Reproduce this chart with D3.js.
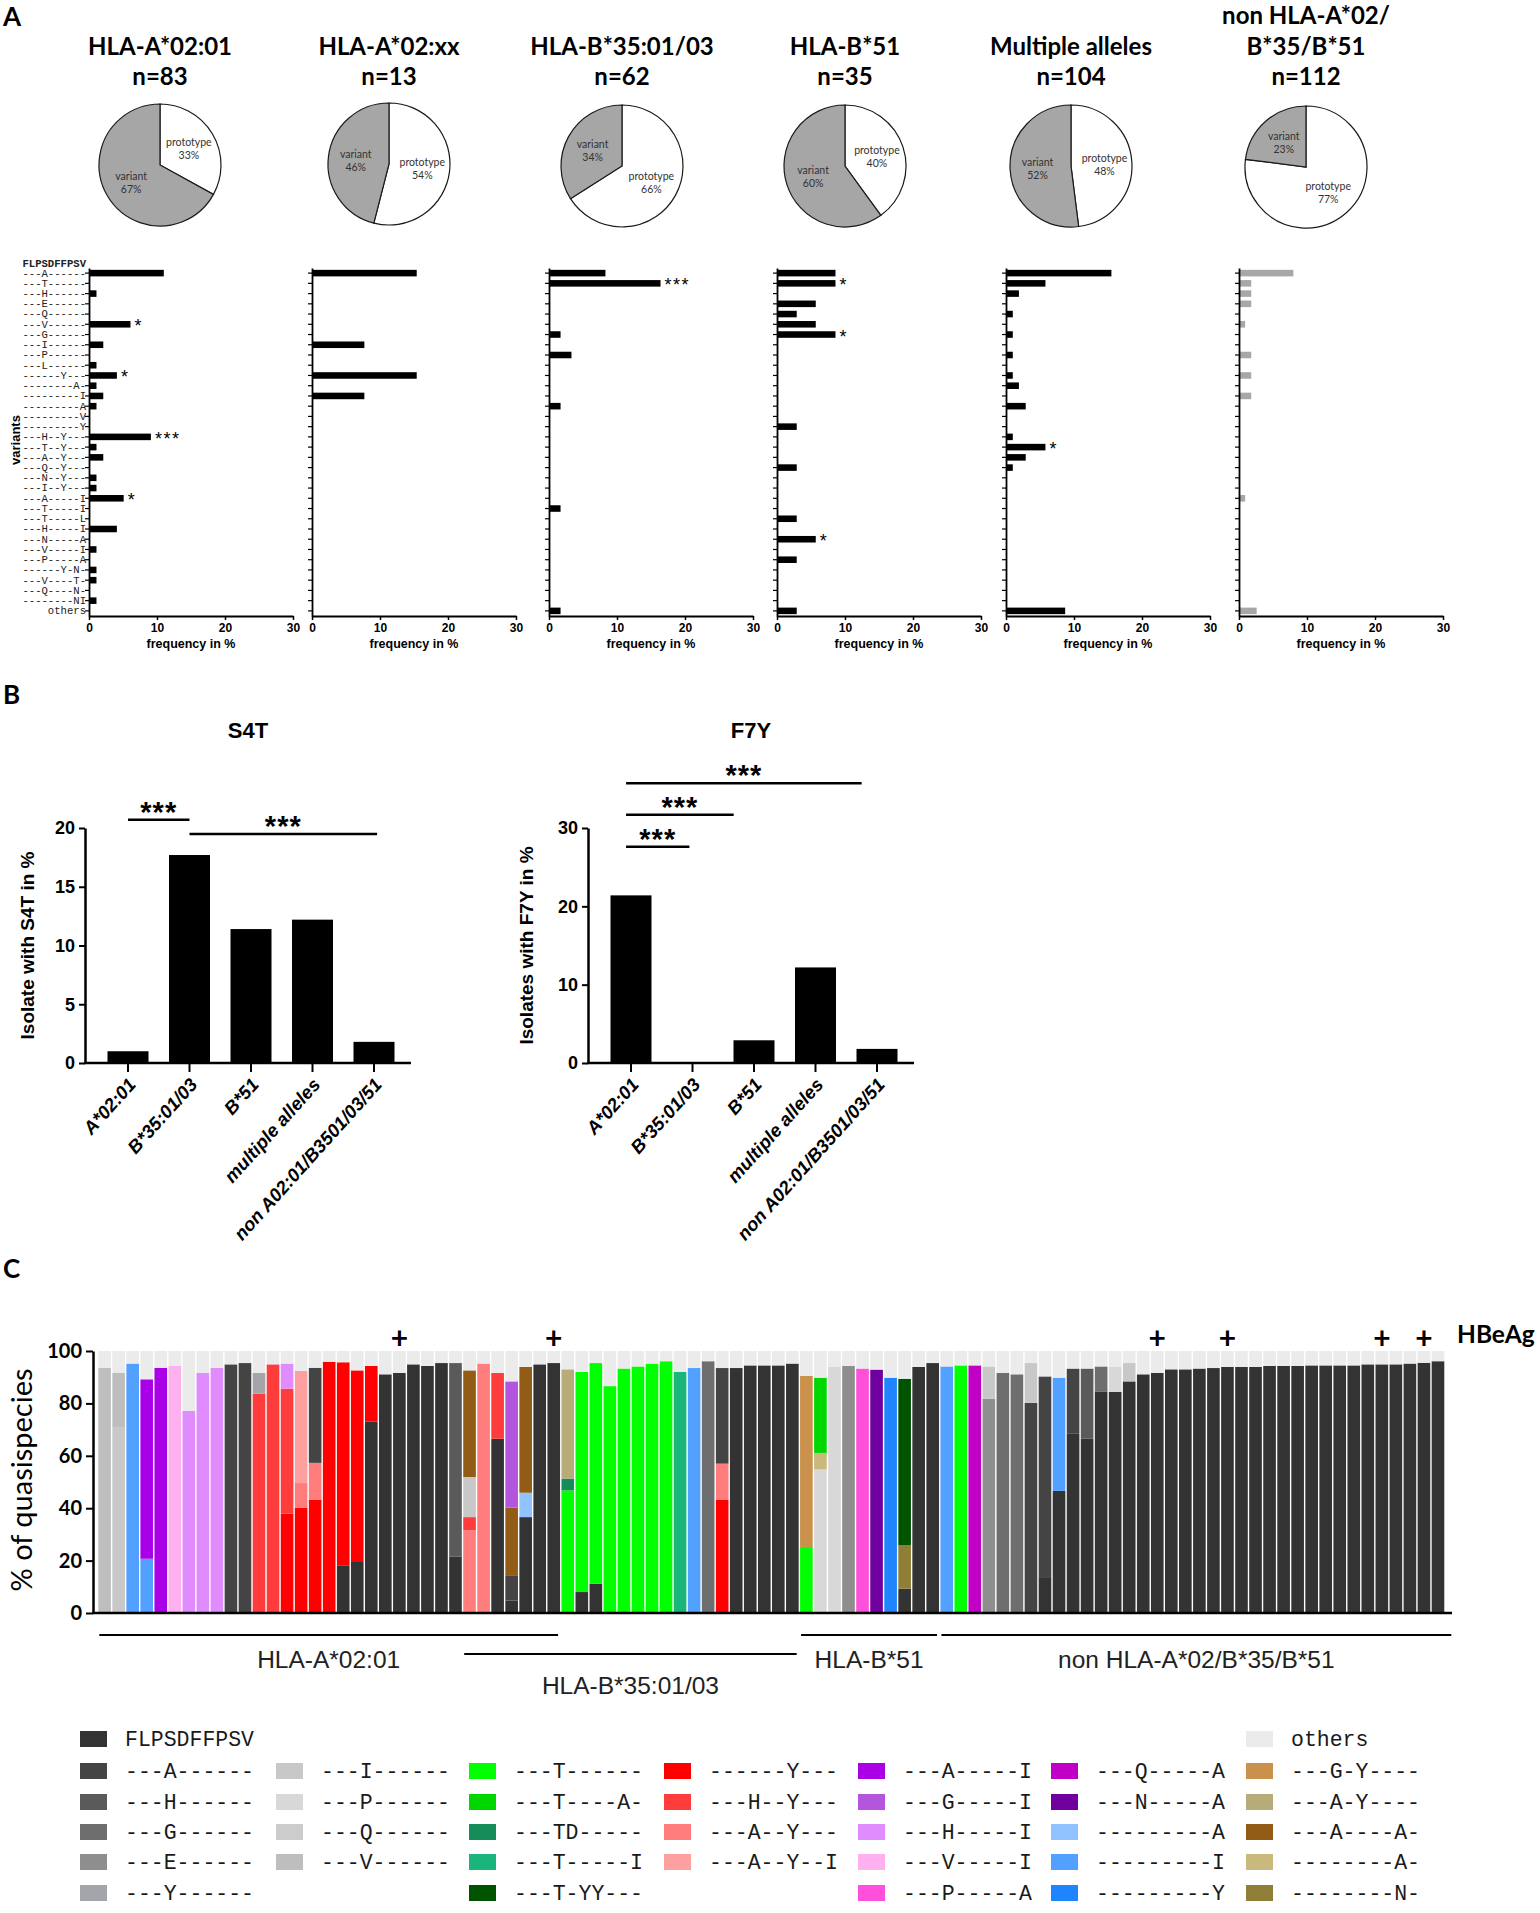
<!DOCTYPE html>
<html><head><meta charset="utf-8">
<script src="https://cdn.jsdelivr.net/npm/d3@7"></script>
<style>body{margin:0;background:#fff}</style>
</head><body><svg id="c" width="1540" height="1913"></svg>
<script>
// ================= DATA =================
// Panel A
const groupTitles = [["HLA-A*02:01","n=83"],["HLA-A*02:xx","n=13"],["HLA-B*35:01/03","n=62"],["HLA-B*51","n=35"],["Multiple alleles","n=104"],["non HLA-A*02/","B*35/B*51","n=112"]];
const prototypePct = [33,54,66,40,48,77];
const variantPct   = [67,46,34,60,52,23];
const prototypeSeq = "FLPSDFFPSV";
const variantLabels = ["---A------","---T------","---H------","---E------","---Q------","---V------","---G------","---I------","---P------","---L------",
  "------Y---","--------A-","---------I","---------A","---------V","---------Y",
  "---H--Y---","---T--Y---","---A--Y---","---Q--Y---","---N--Y---","---I--Y---",
  "---A-----I","---T-----I","---T-----L","---H-----I","---N-----A","---V-----I","---P-----A",
  "------Y-N-","---V----T-","---Q----N-","--------NI","others"];
const freqA0201   = [11.0,0,1.1,0,0,6.1,0,2.1,0,1.1, 4.1,1.1,2.1,1.1,0,0, 9.1,1.1,2.1,0,1.1,1.1, 5.1,0,0,4.1,0,1.1,0, 1.1,1.1,0,1.1,0];
const freqA02xx   = [15.4,0,0,0,0,0,0,7.7,0,0, 15.4,0,7.7,0,0,0, 0,0,0,0,0,0, 0,0,0,0,0,0,0, 0,0,0,0,0];
const freqB3501   = [8.3,16.4,0,0,0,0,1.7,0,3.3,0, 0,0,0,1.7,0,0, 0,0,0,0,0,0, 0,1.7,0,0,0,0,0, 0,0,0,0,1.7];
const freqB51     = [8.6,8.6,0,5.7,2.9,5.7,8.6,0,0,0, 0,0,0,0,0,2.9, 0,0,0,2.9,0,0, 0,0,2.9,0,5.7,0,2.9, 0,0,0,0,2.9];
const freqMultiple= [15.5,5.8,1.9,0,1.0,0,1.0,0,1.0,0, 1.0,1.9,0,2.9,0,0, 1.0,5.8,2.9,1.0,0,0, 0,0,0,0,0,0,0, 0,0,0,0,8.7];
const freqNonA02  = [8.0,1.8,1.8,1.8,0,0.9,0,0,1.8,0, 1.8,0,1.8,0,0,0, 0,0,0,0,0,0, 0.9,0,0,0,0,0,0, 0,0,0,0,2.6];
const starsA0201 = [[5,"*"],[10,"*"],[16,"***"],[22,"*"]];
const starsA02xx = [];
const starsB3501 = [[1,"***"]];
const starsB51 = [[1,"*"],[6,"*"],[26,"*"]];
const starsMultiple = [[17,"*"]];
const starsNonA02 = [];
const freqTicks = [0,10,20,30];

// Panel B
const bCategories = ["A*02:01","B*35:01/03","B*51","multiple alleles","non A02:01/B3501/03/51"];
const s4tValues = [1.0,17.7,11.4,12.2,1.8];
const f7yValues = [21.4,0,2.9,12.2,1.8];
const s4tTicks = [0,5,10,15,20];
const f7yTicks = [0,10,20,30];
// [from category position, to category position, height in %]
const s4tSig = [[0,1,20.7],[1,4.05,19.5]];
const f7ySig = [[-0.08,0.95,27.6],[-0.08,1.67,31.7],[-0.08,3.75,35.7]];

// Panel C
const qsKeys   = ["proto","A4","H4","G4","E4","Y4","I4","P4","Q4","V4","T4","T4A9","T4D5","T4I10","T4Y6Y7","Y7","H4Y7","A4Y7","A4Y7I10","A4I10","G4I10","H4I10","V4I10","P4A10","Q4A10","N4A10","A10","I10","Y10","others","G4Y6","A4Y6","A4A9","A9","N9"];
const qsLabels = ["FLPSDFFPSV","---A------","---H------","---G------","---E------","---Y------","---I------","---P------","---Q------","---V------","---T------","---T----A-","---TD-----","---T-----I","---T-YY---","------Y---","---H--Y---","---A--Y---","---A--Y--I","---A-----I","---G-----I","---H-----I","---V-----I","---P-----A","---Q-----A","---N-----A","---------A","---------I","---------Y","others","---G-Y----","---A-Y----","---A----A-","--------A-","--------N-"];
const qsColors = ["#333333","#444444","#5a5a5a","#6e6e6e","#8e8e8e","#a4a4ab","#c8c8c8","#d8d8d8","#cccccc","#bebebe","#00ff00","#00d600","#168c5a","#19b57a","#005400","#ff0000","#ff3c3c","#ff7d7d","#ffa0a0","#aa00e8","#b455dd","#e08cff","#ffb0ee","#ff50dc","#c000c4","#70009e","#90c2ff","#52a0ff","#1e84ff","#ebebeb","#c9914c","#b7ab7a","#935c16","#c9b97c","#8e7e36"];
const legendColumns = [
  ["proto","A4","H4","G4","E4","Y4"],
  [null,"I4","P4","Q4","V4"],
  [null,"T4","T4A9","T4D5","T4I10","T4Y6Y7"],
  [null,"Y7","H4Y7","A4Y7","A4Y7I10"],
  [null,"A4I10","G4I10","H4I10","V4I10","P4A10"],
  [null,"Q4A10","N4A10","A10","I10","Y10"],
  ["others","G4Y6","A4Y6","A4A9","A9","N9"]
];
// each isolate: stacked segments [variant, cumulative upper %]; remainder up to 100 = others
const qsBars = [
 [["V4",93.6]], [["I4",71],["V4",91.6]], [["I10",95.2]], [["I10",20.7],["A4I10",89.2]], [["A4I10",93.6]],
 [["V4I10",94.3]], [["H4I10",77.1]], [["H4I10",91.6]], [["H4I10",93.6]], [["A4",94.9]],
 [["A4",95.4]], [["H4Y7",83.7],["Y4",91.6]], [["H4Y7",94.9]], [["Y7",37.9],["H4Y7",85.6],["H4I10",95.2]], [["Y7",40.2],["A4Y7",49.6],["A4Y7I10",92.4]],
 [["Y7",43.3],["A4Y7",57.3],["A4",93.6]], [["Y7",95.9]], [["proto",18.2],["Y7",95.7]], [["proto",19.8],["Y7",92.6]], [["proto",73],["Y7",94.3]],
 [["proto",91.1]], [["proto",91.6]], [["proto",94.9]], [["proto",94.3]], [["proto",95.4]],
 [["proto",21.6],["H4",95.4]], [["A4Y7",31.6],["H4Y7",36.6],["I4",51.9],["A4A9",92.6]], [["A4Y7",95.2]], [["proto",66.5],["H4Y7",91.6]], [["proto",4.8],["A4",14.4],["A4A9",40.2],["G4I10",88.4]],
 [["proto",36.6],["A10",45.9],["A4A9",93.9]], [["proto",94.9]], [["proto",95.4]], [["T4",46.8],["T4D5",51.3],["A4Y6",93.0]], [["proto",8.0],["T4",92.0]],
 [["proto",11.2],["T4",95.4]], [["T4",86.6]], [["T4",93.3]], [["T4",94.1]], [["T4",95.2]],
 [["T4",96.1]], [["T4I10",92.0]], [["I10",93.5]], [["G4",96.1]], [["Y7",43.3],["A4Y7",57.0],["A4",93.5]],
 [["proto",93.5]], [["proto",94.5]], [["proto",94.5]], [["proto",94.5]], [["proto",95.2]],
 [["T4",25.2],["G4Y6",90.5]], [["P4",54.8],["A9",61.1],["T4A9",89.8]], [["P4",93.9]], [["E4",94.3]], [["P4A10",93.3]],
 [["N4A10",92.9]], [["Y10",89.8]], [["proto",9.3],["N9",25.8],["T4Y6Y7",89.4]], [["proto",93.9]], [["proto",95.4]],
 [["I10",94.1]], [["T4",94.5]], [["Q4A10",94.5]], [["E4",81.8],["I4",94.1]], [["G4",91.6]],
 [["G4",91.1]], [["A4",80.2],["I4",95.4]], [["proto",13.7],["A4",90.3]], [["proto",46.6],["I10",89.8]], [["proto",68.4],["A4",93.3]],
 [["proto",66.5],["H4",93.3]], [["proto",84.4],["G4",94.1]], [["proto",84.4],["P4",94.1]], [["proto",88.4],["I4",95.4]], [["proto",91.1]],
 [["proto",91.6]], [["proto",93.0]], [["proto",93.0]], [["proto",93.3]], [["proto",93.5]],
 [["proto",93.9]], [["proto",93.9]], [["proto",93.9]], [["proto",94.3]], [["proto",94.3]],
 [["proto",94.3]], [["proto",94.5]], [["proto",94.5]], [["proto",94.5]], [["proto",94.5]],
 [["proto",94.9]], [["proto",94.9]], [["proto",94.9]], [["proto",95.2]], [["proto",95.5]],
 [["proto",96.1]]
];
const hbeagPositive = [22,33,76,81,92,95];
const qsTicks = [0,20,40,60,80,100];
const qsGroupNames = ["HLA-A*02:01","HLA-B*35:01/03","HLA-B*51","non HLA-A*02/B*35/B*51"];
const qsGroupFirst = [1,27,51,61];
const qsGroupLast  = [33,50,60,96];

// ================= DRAWING =================
const svg = d3.select("#c");
svg.append("rect").attr("width",1540).attr("height",1913).attr("fill","#fff");
const SANS = "'Liberation Sans', Arial, sans-serif";
const CAL = "Lato, 'Open Sans', sans-serif";
const MONO = "'Liberation Mono', 'Courier New', monospace";

function styleAxis(g, o){
  g.attr("font-family", o.font).attr("font-size", o.size).attr("font-weight", o.weight||"normal");
  g.select(".domain").attr("stroke","#000").attr("stroke-width", o.domainW||2);
  g.selectAll(".tick line").attr("stroke","#000").attr("stroke-width", o.tickW||1.5);
  g.selectAll(".tick text").attr("fill", o.color||"#000");
}

// panel letters
[["A",26],["B",704],["C",1278]].forEach(([t,y])=>{
  svg.append("text").attr("x",3).attr("y",y).text(t)
    .attr("font-family",CAL).attr("font-weight",700).attr("font-size",26);
});

// ---------- Panel A : titles + pies ----------
const pieCX = [160,389,622,845,1071,1306];
const pieCY = [165,164,166,166,166,167];
const pieR = 61;
const pieGen = d3.pie().sort(null).value(d=>d.v);
const arcGen = d3.arc().innerRadius(0).outerRadius(pieR);
groupTitles.forEach((lines,i)=>{
  const n = lines.length;
  lines.forEach((l,j)=>{
    svg.append("text").attr("x",pieCX[i]).attr("y",85 - (n-1-j)*30.5).attr("text-anchor","middle")
      .attr("font-family",CAL).attr("font-weight",700).attr("font-size",24).text(l);
  });
  const data = [{k:"prototype",v:prototypePct[i]},{k:"variant",v:variantPct[i]}];
  const g = svg.append("g").attr("transform",`translate(${pieCX[i]},${pieCY[i]})`);
  const arcs = pieGen(data);
  g.selectAll("path").data(arcs).join("path").attr("d",arcGen)
    .attr("fill",d=>d.data.k==="prototype"?"#fff":"#a6a6a6").attr("stroke","#1a1a1a").attr("stroke-width",1.2);
  arcs.forEach(a=>{
    const m=(a.startAngle+a.endAngle)/2, rr=pieR*0.55;
    const px=Math.sin(m)*rr, py=-Math.cos(m)*rr;
    const t = g.append("text").attr("text-anchor","middle").attr("font-family",CAL).attr("font-size",10.5).attr("fill","#333");
    t.append("tspan").attr("x",px).attr("y",py-2).text(a.data.k);
    t.append("tspan").attr("x",px).attr("y",py+11).text(a.data.v+"%");
  });
});

// ---------- Panel A : horizontal bar charts ----------
const freqSets = [freqA0201,freqA02xx,freqB3501,freqB51,freqMultiple,freqNonA02];
const starSets = [starsA0201,starsA02xx,starsB3501,starsB51,starsMultiple,starsNonA02];
const chartX0 = [89,312,549,777,1006,1239];
const rowY = d3.scaleBand().domain(variantLabels).range([268,616]).paddingInner(0.36).paddingOuter(0.18);
freqSets.forEach((vals,i)=>{
  const x0 = chartX0[i];
  const x = d3.scaleLinear().domain([0,30]).range([x0,x0+204]);
  const g = svg.append("g");
  g.append("g").selectAll("rect").data(vals).join("rect")
    .attr("x",x(0)).attr("y",(d,j)=>rowY(variantLabels[j]))
    .attr("width",d=>x(d)-x(0)).attr("height",rowY.bandwidth())
    .attr("fill", i===5?"#a7a7a7":"#000");
  const ya = g.append("g").attr("transform",`translate(${x0},0)`)
    .call(d3.axisLeft(rowY).tickSize(4).tickSizeOuter(0).tickPadding(-1).tickFormat(i===0?(d=>d):(()=>"")));
  styleAxis(ya,{font:MONO,size:10.6,domainW:1.8,tickW:1.2,color:"#222"});
  const xa = g.append("g").attr("transform","translate(0,616)")
    .call(d3.axisBottom(x).tickValues(freqTicks).tickSize(4).tickSizeOuter(0).tickPadding(3));
  styleAxis(xa,{font:SANS,size:12,weight:"bold",domainW:1.8,tickW:1.5});
  g.append("text").attr("x",x0+102).attr("y",648).attr("text-anchor","middle")
    .attr("font-family",SANS).attr("font-weight","bold").attr("font-size",12.5).text("frequency in %");
  starSets[i].forEach(([r,s])=>{
    g.append("text").attr("x",x(vals[r])+4).attr("y",rowY(variantLabels[r])+rowY.bandwidth()/2+8)
      .attr("font-family",SANS).attr("font-size",18).attr("letter-spacing",1.5).text(s);
  });
});
svg.append("text").attr("x",86).attr("y",266.5).attr("text-anchor","end")
  .attr("font-family",MONO).attr("font-weight","bold").attr("font-size",10.6).attr("fill","#222").text(prototypeSeq);
svg.append("text").attr("transform","translate(20,440) rotate(-90)").attr("text-anchor","middle")
  .attr("font-family",SANS).attr("font-weight","bold").attr("font-size",13).text("variants");

// ---------- Panel B ----------
function drawB(o){
  const yTop=828, y0=1063, step=61.5, c0=o.axisX+43;
  const y = d3.scaleLinear().domain([0,o.max]).range([y0,yTop]);
  const xb = d3.scaleBand().domain(bCategories).range([c0-step/2, c0+4.5*step]).paddingInner(1/3).paddingOuter(1/6);
  const g = svg.append("g");
  g.selectAll("rect").data(o.values).join("rect")
    .attr("x",(d,i)=>xb(bCategories[i])).attr("width",xb.bandwidth())
    .attr("y",d=>y(d)).attr("height",d=>y0-y(d)).attr("fill","#000");
  const ya = g.append("g").attr("transform",`translate(${o.axisX},0)`)
    .call(d3.axisLeft(y).tickValues(o.ticks).tickSize(6).tickSizeOuter(0).tickPadding(4));
  styleAxis(ya,{font:SANS,size:18,weight:"bold",domainW:2.5,tickW:2});
  g.append("line").attr("x1",o.axisX-1).attr("x2",o.axisX+326).attr("y1",y0).attr("y2",y0).attr("stroke","#000").attr("stroke-width",2.5);
  bCategories.forEach(c=>{
    const cx = xb(c)+xb.bandwidth()/2;
    g.append("line").attr("x1",cx).attr("x2",cx).attr("y1",y0).attr("y2",y0+9).attr("stroke","#000").attr("stroke-width",2);
    g.append("text").attr("transform",`translate(${cx+4},${y0+18}) rotate(-48)`).attr("text-anchor","end").attr("dy","0.35em")
      .attr("font-family",SANS).attr("font-weight","bold").attr("font-style","italic").attr("font-size",18.5).text(c);
  });
  o.sig.forEach(([a,b,v])=>{
    const xa=c0+a*step, xe=c0+b*step;
    g.append("line").attr("x1",xa).attr("x2",xe).attr("y1",y(v)).attr("y2",y(v)).attr("stroke","#000").attr("stroke-width",2.5);
    g.append("text").attr("x",(xa+xe)/2).attr("y",y(v)+2).attr("text-anchor","middle")
      .attr("font-family",SANS).attr("font-weight","bold").attr("font-size",29).attr("letter-spacing",1).text("***");
  });
  g.append("text").attr("x",o.axisX+163).attr("y",738).attr("text-anchor","middle")
    .attr("font-family",SANS).attr("font-weight","bold").attr("font-size",22).text(o.title);
  g.append("text").attr("transform",`translate(${o.labelX},945.5) rotate(-90)`).attr("text-anchor","middle")
    .attr("font-family",SANS).attr("font-weight","bold").attr("font-size",19).text(o.ylabel);
}
drawB({axisX:85, max:20, values:s4tValues, ticks:s4tTicks, sig:s4tSig, title:"S4T", ylabel:"Isolate with S4T in %", labelX:34});
drawB({axisX:588, max:30, values:f7yValues, ticks:f7yTicks, sig:f7ySig, title:"F7Y", ylabel:"Isolates with F7Y in %", labelX:533});

// ---------- Panel C ----------
const xq = d3.scaleBand().domain(d3.range(1,qsBars.length+1)).range([97.6,1445]).paddingInner(0.1).paddingOuter(0.05);
const yq = d3.scaleLinear().domain([0,100]).range([1613,1351]);
const colorOf = k => qsColors[qsKeys.indexOf(k)];
const segs = [];
qsBars.forEach((bar,i)=>{
  let lo = 0;
  bar.concat([["others",100]]).forEach(([k,hi])=>{ segs.push({bar:i+1,k,lo,hi}); lo=hi; });
});
svg.append("g").selectAll("rect").data(segs).join("rect")
  .attr("x",d=>xq(d.bar)).attr("width",xq.bandwidth())
  .attr("y",d=>yq(d.hi)).attr("height",d=>yq(d.lo)-yq(d.hi)).attr("fill",d=>colorOf(d.k));
const yqa = svg.append("g").attr("transform","translate(93,0)")
  .call(d3.axisLeft(yq).tickValues(qsTicks).tickSize(7).tickSizeOuter(0).tickPadding(4));
styleAxis(yqa,{font:CAL,size:20,weight:"bold",domainW:2.5,tickW:2});
svg.append("line").attr("x1",92).attr("x2",1452).attr("y1",1613).attr("y2",1613).attr("stroke","#000").attr("stroke-width",2.5);
svg.append("text").attr("transform","translate(32,1480) rotate(-90)").attr("text-anchor","middle")
  .attr("font-family",CAL).attr("font-size",29).text("% of quasispecies");
hbeagPositive.forEach(k=>{
  svg.append("text").attr("x",xq(k)+xq.bandwidth()/2).attr("y",1349).attr("text-anchor","middle")
    .attr("font-family",CAL).attr("font-weight",700).attr("font-size",30).text("+");
});
svg.append("text").attr("x",1457).attr("y",1343).attr("font-family",CAL).attr("font-weight",700).attr("font-size",24.5).text("HBeAg");
qsGroupNames.forEach((name,i)=>{
  const row = i===1 ? 1 : 0;
  const x1 = xq(qsGroupFirst[i])+1;
  const x2 = xq(qsGroupLast[i])+xq.bandwidth()-2 + (i===qsGroupNames.length-1 ? 9 : 0);
  const ly = row ? 1654 : 1635;
  svg.append("line").attr("x1",x1).attr("x2",x2).attr("y1",ly).attr("y2",ly).attr("stroke","#000").attr("stroke-width",1.8);
  svg.append("text").attr("x",(x1+x2)/2).attr("y",row?1694:1668).attr("text-anchor","middle")
    .attr("font-family",SANS).attr("font-size",24.5).attr("fill","#222").text(name);
});

// legend
const legendColX = [80,276,469,664,858,1051,1246];
const legendRowY = [1739,1771,1802,1832,1862,1893];
legendColumns.forEach((col,ci)=>{
  col.forEach((k,ri)=>{
    if(!k) return;
    const x = legendColX[ci], y = legendRowY[ri];
    svg.append("rect").attr("x",x).attr("y",y-8).attr("width",27).attr("height",16).attr("fill",colorOf(k));
    svg.append("text").attr("x",x+45).attr("y",y+7).attr("font-family",MONO).attr("font-size",21.5).attr("fill","#1a1a1a")
      .text(qsLabels[qsKeys.indexOf(k)]);
  });
});
</script>
</body></html>
